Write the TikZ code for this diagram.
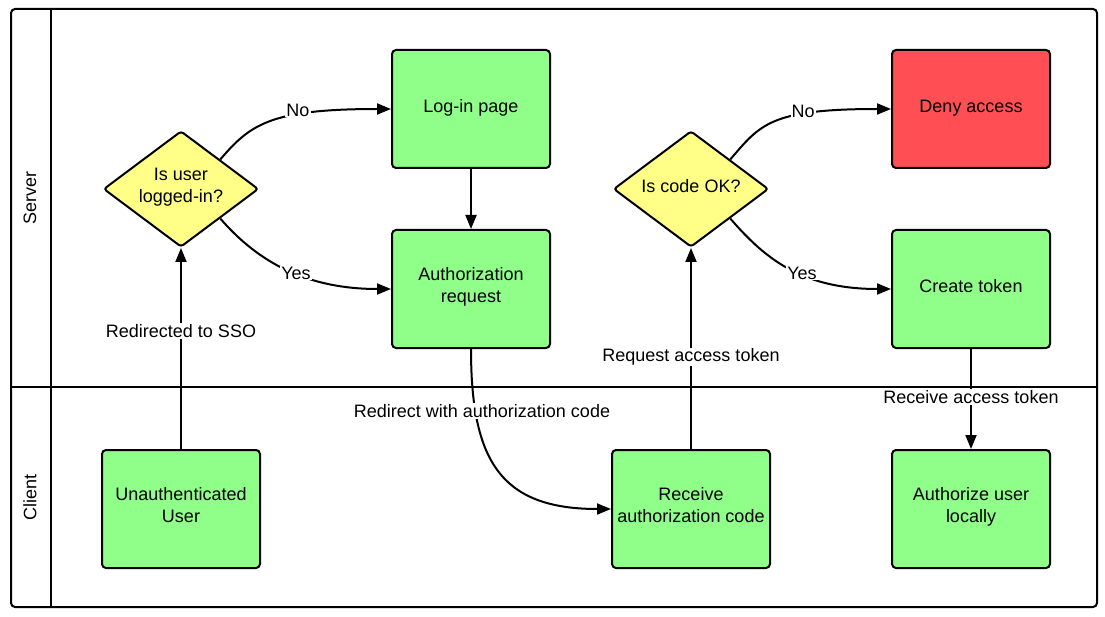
\documentclass[tikz,border=0pt]{standalone}
\usepackage{fontspec}
\setmainfont{Liberation Sans}
\usetikzlibrary{arrows.meta,shapes.geometric}
\definecolor{boxgreen}{HTML}{8FFF89}
\definecolor{decyellow}{HTML}{FFFF88}
\definecolor{denyred}{HTML}{FF4F55}
\tikzset{
  stepbox/.style={draw=black, line width=2pt, rounded corners=4pt, fill=boxgreen,
    minimum width=158pt, minimum height=118pt, align=center, inner sep=2pt,
    text height=12pt, text depth=5.5pt},
  decision/.style={diamond, draw=black, line width=2pt, rounded corners=3pt, fill=decyellow,
    minimum width=155pt, minimum height=116pt, aspect=1.33, inner sep=0pt, align=center,
    text height=12pt, text depth=5.5pt},
  twoline/.style={text height=33pt},
  conn/.style={line width=2pt, -{Triangle[length=14pt,width=11pt]}},
  lbl/.style={fill=white, inner sep=1pt},
  lane/.style={line width=2pt},
}
\begin{document}
\begin{tikzpicture}[x=1pt, y=-1pt, font=\fontsize{18}{22}\selectfont]
\useasboundingbox (0,0) rectangle (1105,617);
% nodes
\node[stepbox] (login) at (471,109) {Log-in page};
\node[stepbox, twoline] (authreq) at (471,289) {Authorization\\request};
\node[stepbox, fill=denyred] (deny) at (971,109) {Deny access};
\node[stepbox] (create) at (971,289) {Create token};
\node[stepbox, twoline] (unauth) at (181,509) {Unauthenticated\\User};
\node[stepbox, twoline] (receive) at (691,509) {Receive\\authorization code};
\node[stepbox, twoline] (local) at (971,509) {Authorize user\\locally};
\node[decision, twoline] (d1) at (181,189) {Is user\\logged-in?};
\node[decision] (d2) at (691,189) {Is code OK?};
% connectors
\draw[conn] (unauth.north) -- (d1.south);
\draw[conn] (d1.north east) .. controls +(30,-35) and +(-121,0) .. (login.west);
\draw[conn] (d1.south east) .. controls +(33,38) and +(-91,0) .. (authreq.west);
\draw[conn] (login.south) -- (authreq.north);
\draw[conn] (authreq.south) .. controls +(0,111) and +(-111,0) .. (receive.west);
\draw[conn] (receive.north) -- (d2.south);
\draw[conn] (d2.north east) .. controls +(30,-35) and +(-121,0) .. (deny.west);
\draw[conn] (d2.south east) .. controls +(33,38) and +(-91,0) .. (create.west);
\draw[conn] (create.south) -- (local.north);
% labels
\node[lbl] (l1) at (181,331) {Redirected to SSO};
\node[lbl] (l2) at (298,110) {No};
\node[lbl] (l3) at (296,273) {Yes};
\node[lbl] (l4) at (482,411) {Redirect with authorization code};
\node[lbl] (l5) at (691,357) {Request access token};
\node[lbl] (l6) at (803,111) {No};
\node[lbl] (l7) at (802,273) {Yes};
\node[lbl] (l8) at (971,397) {Receive access token};
% lanes
\draw[lane, rounded corners=4pt] (11,9) rectangle (1097,607);
\draw[lane] (51,9) -- (51,607);
\draw[lane] (11,387) -- (1097,387);
\node[rotate=90] (server) at (30,198) {Server};
\node[rotate=90] (client) at (30,497) {Client};
\end{tikzpicture}
\end{document}
